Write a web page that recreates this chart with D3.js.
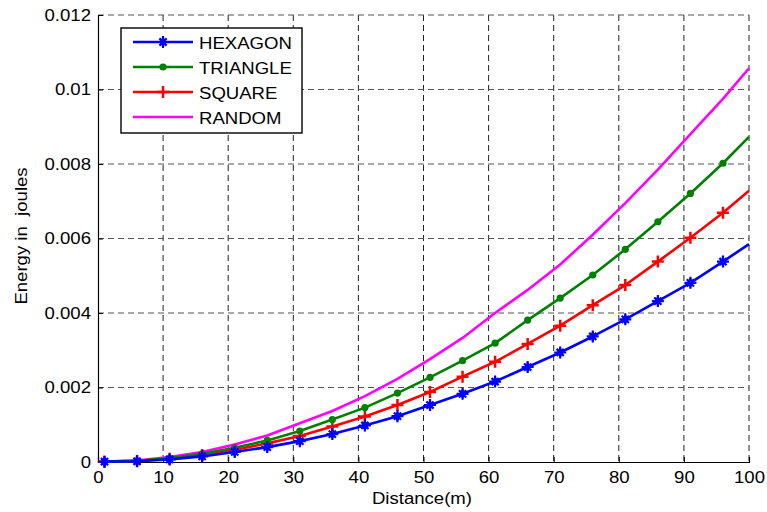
<!DOCTYPE html>
<html>
<head>
<meta charset="utf-8">
<script src="https://cdn.jsdelivr.net/npm/d3@7"></script>
<style>
  body { margin: 0; background: #fff; }
  text { font-family: "Liberation Sans", Arial, sans-serif; fill: #000; }
</style>
</head>
<body>
<script>
// distances (m); markers are drawn at every point except the last one
const distance = [1, 6, 11, 16, 21, 26, 31, 36, 41, 46, 51, 56, 61, 66, 71, 76, 81, 86, 91, 96, 100];

const hexagon  = [0.00001, 0.00002, 0.00007, 0.00015, 0.00027, 0.00040, 0.00056, 0.00075, 0.00098, 0.00123, 0.00153,
                  0.00183, 0.00216, 0.00255, 0.00294, 0.00337, 0.00383, 0.00432, 0.00481, 0.00538, 0.00585];
const triangle = [0.00001, 0.00003, 0.00010, 0.00022, 0.00038, 0.00058, 0.00083, 0.00114, 0.00146, 0.00185, 0.00227,
                  0.00272, 0.00319, 0.00381, 0.00440, 0.00502, 0.00571, 0.00645, 0.00721, 0.00802, 0.00873];
const square   = [0.00001, 0.00003, 0.00009, 0.00019, 0.00033, 0.00050, 0.00070, 0.00095, 0.00122, 0.00153, 0.00188,
                  0.00229, 0.00269, 0.00317, 0.00366, 0.00421, 0.00475, 0.00538, 0.00602, 0.00669, 0.00728];
const random   = [0.00001, 0.00004, 0.00013, 0.00027, 0.00047, 0.00071, 0.00104, 0.00137, 0.00177, 0.00223, 0.00276,
                  0.00333, 0.00400, 0.00462, 0.00530, 0.00610, 0.00695, 0.00785, 0.00880, 0.00975, 0.01057];

const seriesNames = ["HEXAGON", "TRIANGLE", "SQUARE", "RANDOM"];
const xTicks = [0, 10, 20, 30, 40, 50, 60, 70, 80, 90, 100];
const yTicks = [0, 0.002, 0.004, 0.006, 0.008, 0.01, 0.012];

const series = [
  { name: seriesNames[0], values: hexagon,  color: "#0000ff", marker: "star" },
  { name: seriesNames[1], values: triangle, color: "#008000", marker: "dot" },
  { name: seriesNames[2], values: square,   color: "#ff0000", marker: "plus" },
  { name: seriesNames[3], values: random,   color: "#ff00ff", marker: null }
];

const W = 767, H = 512;
const pLeft = 98, pRight = 749, pTop = 15, pBottom = 462;
const FONT = 16, STRETCH = 1.16;   // the original text is a little wider than Arial

const svg = d3.select("body").append("svg")
  .attr("width", W)
  .attr("height", H);

const x = d3.scaleLinear().domain([0, 100]).range([pLeft, pRight]);
const y = d3.scaleLinear().domain([0, 0.012]).range([pBottom, pTop]);

function widen(sel) {
  sel.each(function () {
    const len = this.getComputedTextLength();
    d3.select(this).attr("textLength", len * STRETCH).attr("lengthAdjust", "spacingAndGlyphs");
  });
}

// grid
svg.append("g").selectAll("line")
  .data(xTicks.slice(1))
  .join("line")
  .attr("x1", d => x(d)).attr("x2", d => x(d))
  .attr("y1", pTop).attr("y2", pBottom)
  .attr("stroke", "#222").attr("stroke-width", 1)
  .attr("stroke-dasharray", "6,4");

svg.append("g").selectAll("line")
  .data(yTicks.slice(1))
  .join("line")
  .attr("y1", d => y(d)).attr("y2", d => y(d))
  .attr("x1", pLeft).attr("x2", pRight)
  .attr("stroke", "#555").attr("stroke-width", 1)
  .attr("stroke-dasharray", "6,4");

// axes
const xAxis = d3.axisBottom(x).tickValues(xTicks).tickSize(-5).tickPadding(10)
  .tickFormat(d3.format("d"));
const gx = svg.append("g").attr("transform", `translate(0,${pBottom})`).call(xAxis);
gx.select(".domain").attr("stroke", "#000").attr("stroke-width", 1.2);
gx.selectAll("text").attr("font-size", FONT).style("font-family", "Liberation Sans, Arial, sans-serif").call(widen);

const yAxis = d3.axisLeft(y).tickValues(yTicks).tickSize(-5).tickPadding(7)
  .tickFormat(d => d === 0 ? "0" : String(+d.toFixed(3)));
const gy = svg.append("g").attr("transform", `translate(${pLeft},0)`).call(yAxis);
gy.select(".domain").attr("stroke", "#000").attr("stroke-width", 1.2);
gy.selectAll("text").attr("font-size", FONT).style("font-family", "Liberation Sans, Arial, sans-serif").call(widen);

// axis titles
svg.append("text")
  .attr("x", 422).attr("y", 504)
  .attr("text-anchor", "middle").attr("font-size", FONT)
  .text("Distance(m)")
  .call(widen);

svg.append("text")
  .attr("transform", "translate(27,236) rotate(-90)")
  .attr("text-anchor", "middle").attr("font-size", FONT)
  .style("white-space", "pre")
  .text("Energy in  joules")
  .call(widen);

// markers
function drawMarker(g, kind, color, cx, cy) {
  if (kind === "dot") {
    g.append("circle").attr("cx", cx).attr("cy", cy).attr("r", 3.6).attr("fill", color);
  } else if (kind === "plus") {
    const s = 6;
    g.append("path")
      .attr("d", `M${cx - s},${cy}H${cx + s}M${cx},${cy - s}V${cy + s}`)
      .attr("stroke", color).attr("stroke-width", 2.5).attr("fill", "none");
  } else if (kind === "star") {
    const s = 6, d = 3.6;
    g.append("path")
      .attr("d", `M${cx},${cy - s}L${cx + 3},${cy}L${cx},${cy + s}L${cx - 3},${cy}Z`)
      .attr("fill", color);
    g.append("path")
      .attr("d", `M${cx - s},${cy}H${cx + s}M${cx},${cy - s}V${cy + s}` +
                 `M${cx - d},${cy - d}L${cx + d},${cy + d}M${cx - d},${cy + d}L${cx + d},${cy - d}`)
      .attr("stroke", color).attr("stroke-width", 2.2).attr("fill", "none");
  }
}

const line = d3.line()
  .x((d, i) => x(distance[i]))
  .y(d => y(d));

const plot = svg.append("g");
series.slice().reverse().forEach(s => {
  const g = plot.append("g");
  g.append("path")
    .attr("d", line(s.values))
    .attr("fill", "none")
    .attr("stroke", s.color)
    .attr("stroke-width", 2.6)
    .attr("stroke-linejoin", "round");
  if (s.marker) {
    s.values.slice(0, -1).forEach((v, i) => drawMarker(g, s.marker, s.color, x(distance[i]), y(v)));
  }
});

// legend
const lg = svg.append("g");
lg.append("rect")
  .attr("x", 121).attr("y", 28).attr("width", 181).attr("height", 105)
  .attr("fill", "#fff").attr("stroke", "#000").attr("stroke-width", 1.4);

series.forEach((s, i) => {
  const ly = 42 + i * 25;
  lg.append("line")
    .attr("x1", 133).attr("x2", 193).attr("y1", ly).attr("y2", ly)
    .attr("stroke", s.color).attr("stroke-width", 2.6);
  if (s.marker) drawMarker(lg, s.marker, s.color, 163, ly);
  lg.append("text")
    .attr("x", 199).attr("y", ly + 7)
    .attr("font-size", FONT)
    .text(s.name)
    .call(widen);
});
</script>
</body>
</html>
